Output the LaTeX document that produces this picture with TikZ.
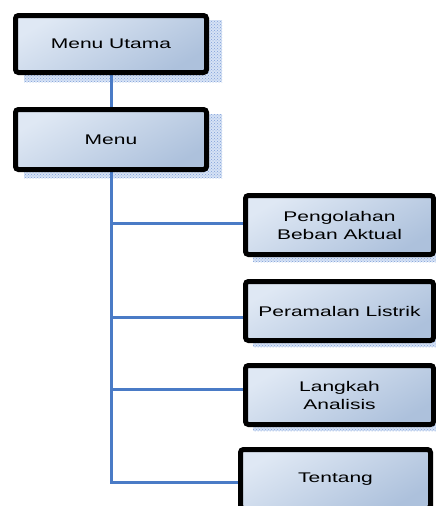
\documentclass[tikz,border=0pt]{standalone}
\usepackage{fontspec}
\setmainfont{Liberation Sans}[FakeStretch=1.5]
\usetikzlibrary{patterns,backgrounds}
\definecolor{boxtop}{HTML}{DFE8F4}
\definecolor{boxbot}{HTML}{ADC1DC}
\definecolor{linkblue}{HTML}{4A7BC6}
\definecolor{shadowblue}{HTML}{7F9FD8}
\definecolor{shadowfill}{HTML}{D6E2F5}
\tikzset{
  menubox/.style={draw=black, line width=5pt, rounded corners=3pt,
    top color=boxtop, bottom color=boxbot, shading angle=30,
    inner sep=0pt, align=center,
    font=\fontsize{14pt}{18pt}\selectfont},
  boxshadow/.style={draw=none, fill=shadowfill,
    postaction={pattern=crosshatch dots, pattern color=shadowblue}},
  link/.style={draw=linkblue, line width=3pt}
}
\begin{document}
\begin{tikzpicture}[x=1pt, y=-1pt]
  \useasboundingbox (0,0) rectangle (436,506);
  \clip (0,0) rectangle (436,506);

  % menu boxes
  \node[menubox, minimum width=191pt, minimum height=57pt] (utama) at (111,44) {Menu Utama};
  \node[menubox, minimum width=191pt, minimum height=60pt] (menu) at (111,139.5) {Menu};
  \node[menubox, minimum width=188pt, minimum height=59pt] (olah) at (339.5,225) {Pengolahan\\Beban Aktual};
  \node[menubox, minimum width=188pt, minimum height=59pt] (ramal) at (339.5,311) {Peramalan Listrik};
  \node[menubox, minimum width=188pt, minimum height=59pt] (langkah) at (339.5,395) {Langkah\\Analisis};
  \node[menubox, minimum width=190pt, minimum height=59pt] (tentang) at (335.5,479) {Tentang};

  \begin{pgfonlayer}{background}
    % dotted drop shadows
    \fill[boxshadow] (24,20) rectangle (222,82);
    \fill[boxshadow] (24,114) rectangle (222,178);
    \fill[boxshadow] (253,198) rectangle (450,262);
    \fill[boxshadow] (253,284) rectangle (450,347);
    \fill[boxshadow] (253,368) rectangle (450,431);

    % tree connectors
    \draw[link] (utama.south) -- (menu.north);
    \draw[link] ([yshift=2pt]olah.west) -| (menu.south);
    \draw[link] ([yshift=-6pt]ramal.west) -| (menu.south);
    \draw[link] ([yshift=6pt]langkah.west) -| (menu.south);
    \draw[link] ([yshift=-3pt]tentang.west) -| (menu.south);
  \end{pgfonlayer}
\end{tikzpicture}
\end{document}
